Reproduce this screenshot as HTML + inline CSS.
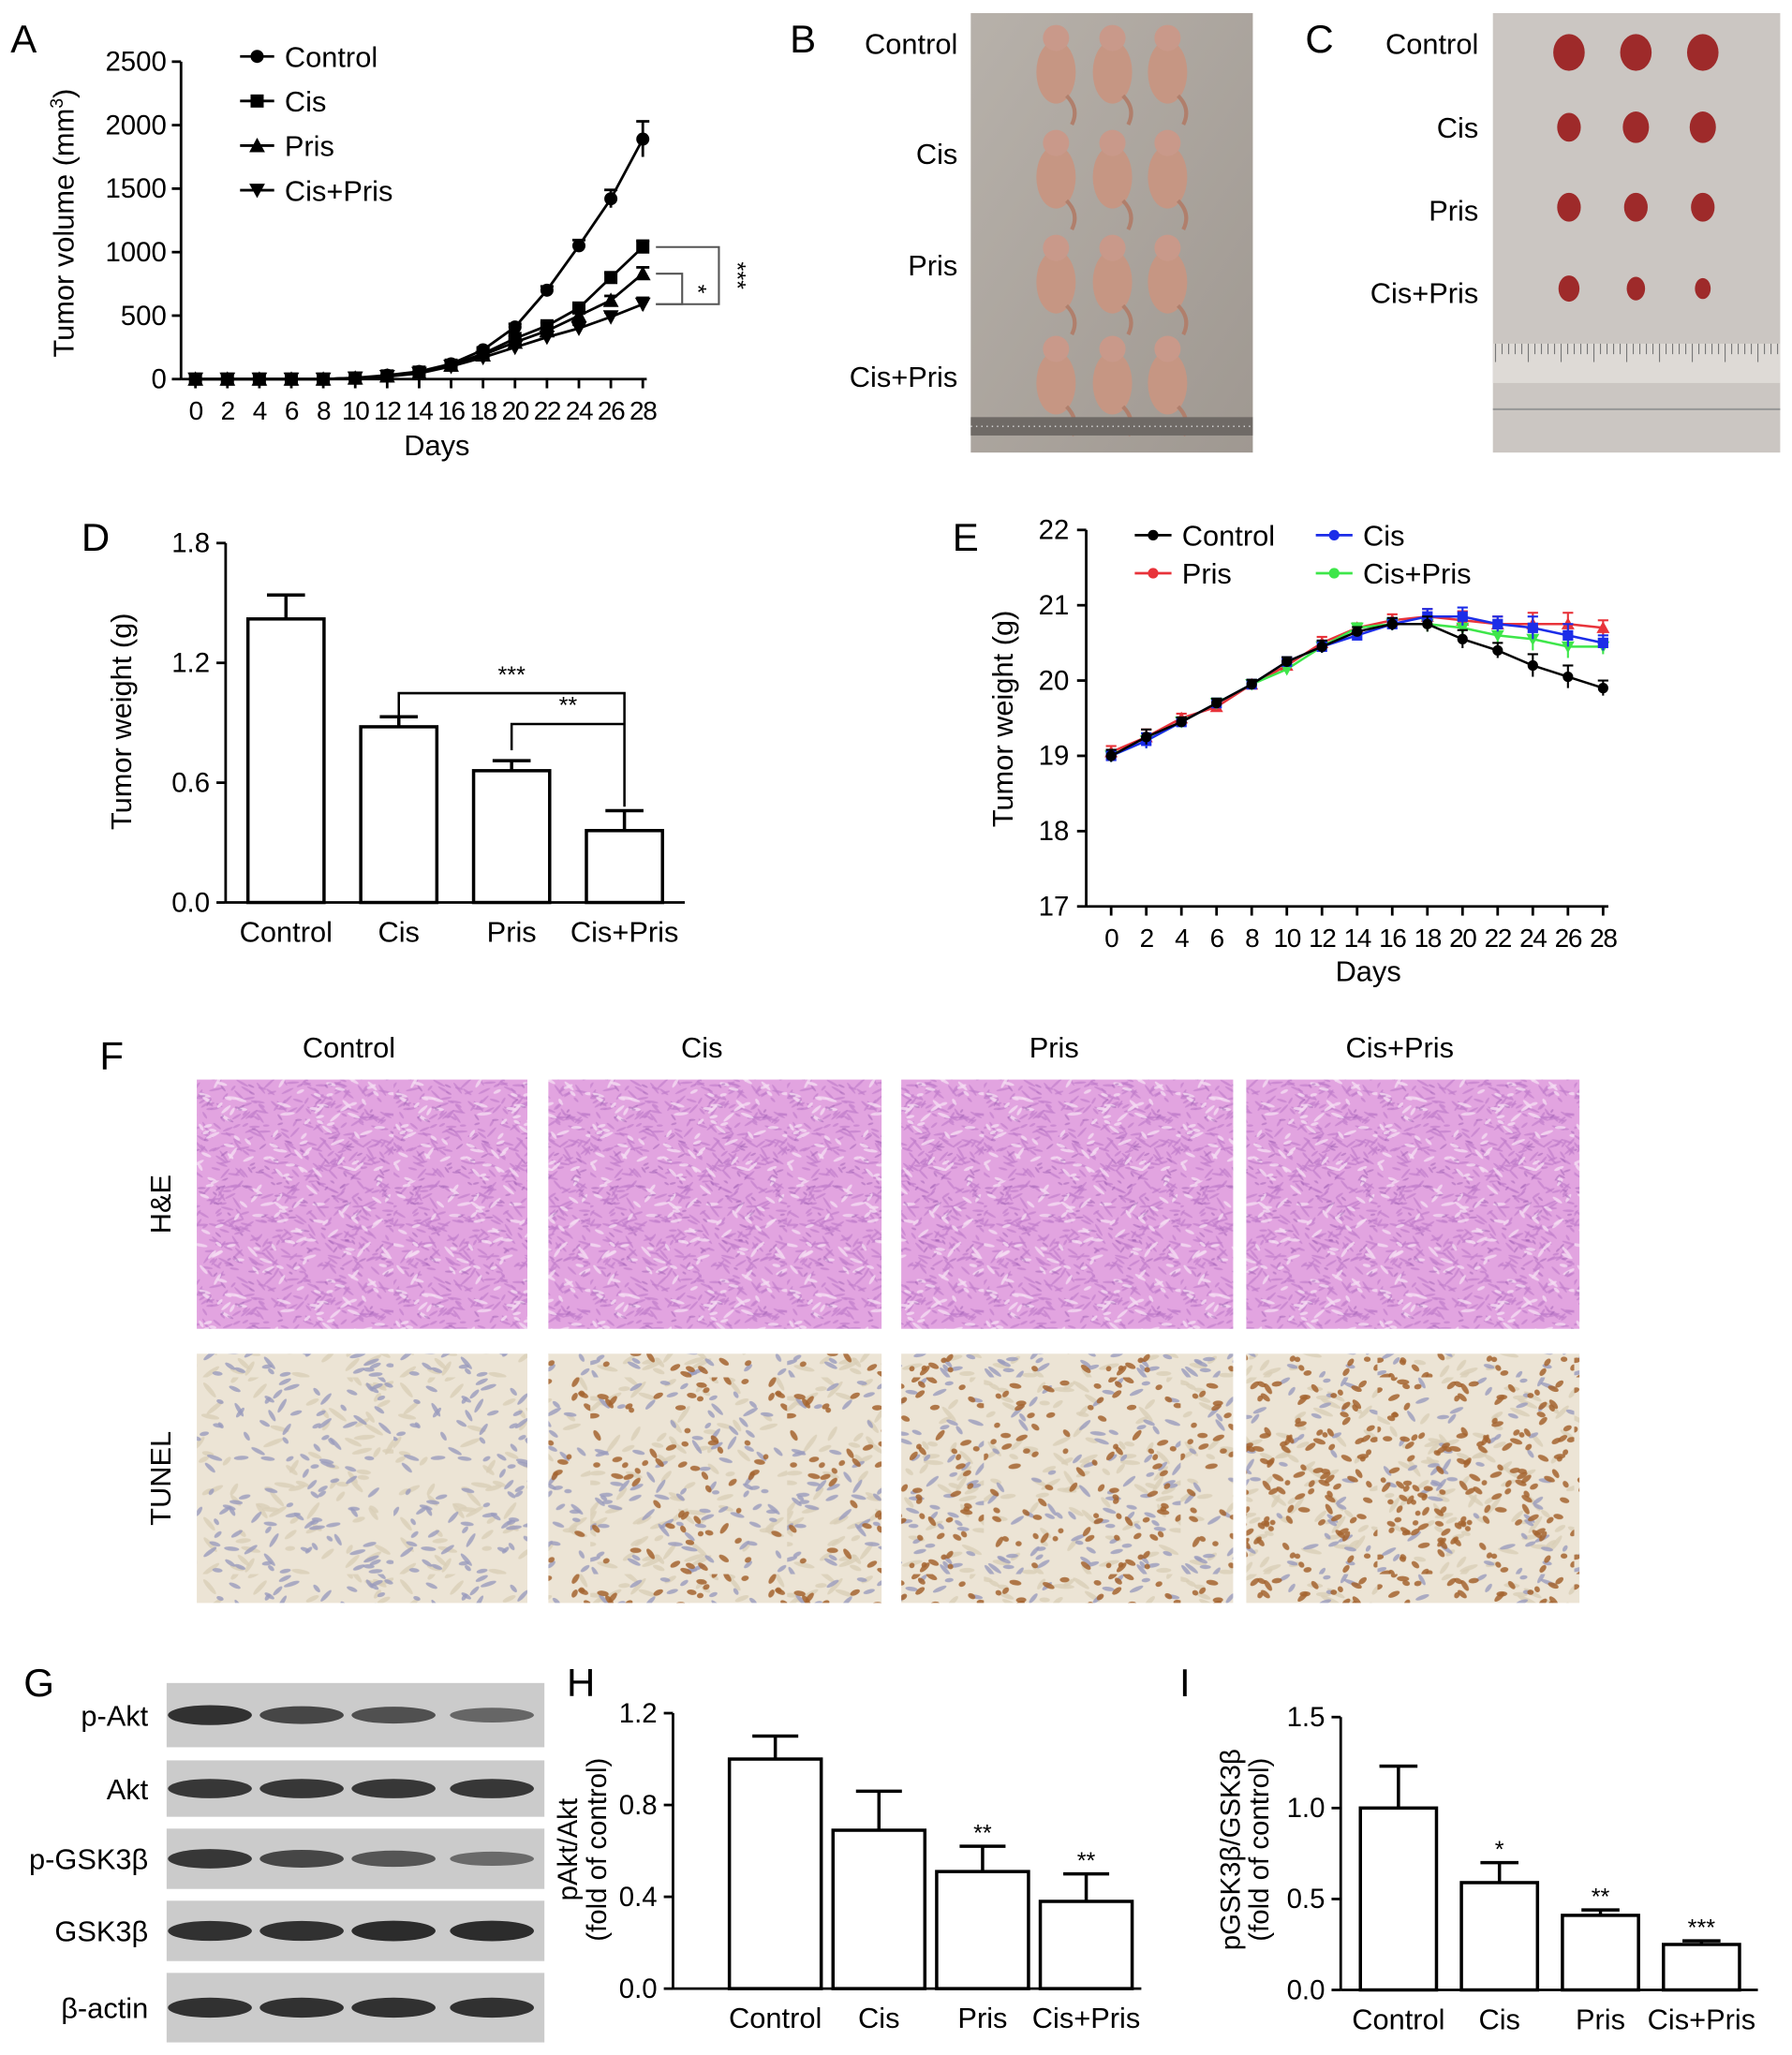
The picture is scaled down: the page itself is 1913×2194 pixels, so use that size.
<!DOCTYPE html>
<html><head><meta charset="utf-8">
<style>
html,body{margin:0;padding:0;background:#fff;}
svg{display:block;font-family:"Liberation Sans",sans-serif;}
</style></head>
<body>
<svg id="fig" xmlns="http://www.w3.org/2000/svg" width="1913" height="2194" viewBox="0 0 1366 1566.6" preserveAspectRatio="none">
<defs id="defs"></defs>
<g id="root"></g>
</svg>
<script>
// ---------- DATA ----------
const days=[0,2,4,6,8,10,12,14,16,18,20,22,24,26,28];
const volControl=[0,0,0,0,0,10,30,60,120,230,410,700,1050,1420,1890];
const volCis=[0,0,0,0,0,8,25,55,110,200,320,420,560,800,1040];
const volPris=[0,0,0,0,0,8,25,50,110,190,290,380,500,620,830];
const volCisPris=[0,0,0,0,0,8,20,45,100,170,250,330,400,490,590];
const volErrControl=[0,0,0,0,0,5,8,10,15,20,25,30,45,70,140];
const volErrOther=[0,0,0,0,0,5,6,8,10,15,20,25,30,35,50];
const volTicks=[0,500,1000,1500,2000,2500];
const volSeriesNames=["Control","Cis","Pris","Cis+Pris"];

const weightCats=["Control","Cis","Pris","Cis+Pris"];
const weightVals=[1.42,0.88,0.66,0.36];
const weightErrs=[0.12,0.05,0.05,0.1];
const weightTicks=[0.0,0.6,1.2,1.8];

const bwControl=[19.0,19.25,19.45,19.7,19.95,20.25,20.45,20.65,20.75,20.75,20.55,20.4,20.2,20.05,19.9];
const bwCis=[19.0,19.2,19.45,19.7,19.95,20.25,20.45,20.6,20.75,20.85,20.85,20.75,20.7,20.6,20.5];
const bwPris=[19.05,19.25,19.5,19.65,19.95,20.2,20.5,20.7,20.8,20.85,20.8,20.75,20.75,20.75,20.7];
const bwCisPris=[19.0,19.2,19.45,19.7,19.95,20.15,20.45,20.7,20.75,20.75,20.7,20.6,20.55,20.45,20.45];
const bwErr=[0.08,0.1,0.06,0.06,0.06,0.06,0.08,0.06,0.08,0.1,0.12,0.1,0.15,0.15,0.1];
const bwTicks=[17,18,19,20,21,22];

const aktCats=["Control","Cis","Pris","Cis+Pris"];
const aktVals=[1.0,0.69,0.51,0.38];
const aktErrs=[0.1,0.17,0.11,0.12];
const aktStars=["","","**","**"];
const aktTicks=[0.0,0.4,0.8,1.2];

const gskCats=["Control","Cis","Pris","Cis+Pris"];
const gskVals=[1.0,0.59,0.41,0.25];
const gskErrs=[0.23,0.11,0.03,0.02];
const gskStars=["","*","**","***"];
const gskTicks=[0.0,0.5,1.0,1.5];

const blotNames=["p-Akt","Akt","p-GSK3β","GSK3β","β-actin"];
const blotIntensity=[[0.9,0.7,0.6,0.4],[0.85,0.85,0.85,0.85],[0.85,0.7,0.55,0.35],[0.9,0.9,0.95,0.95],[0.9,0.9,0.9,0.9]];

// ---------- HELPERS ----------
const NS='http://www.w3.org/2000/svg';
const root=document.getElementById('root');
function mk(parent,tag,attrs,txt){const e=document.createElementNS(NS,tag);for(const k in attrs)e.setAttribute(k,attrs[k]);if(txt!=null)e.textContent=txt;parent.appendChild(e);return e;}
function grp(name){const g=mk(root,'g',{});return g;}
function txt(p,x,y,s,size,anchor,extra){const a=Object.assign({x:x,y:y,'font-size':size,'text-anchor':anchor||'middle',fill:'#000'},extra||{});return mk(p,'text',a,s);}
function fmt(v,d){return v.toFixed(d);}
let seed=7;function rnd(){seed=(seed*16807)%2147483647;return (seed-1)/2147483646;}

[["A",8,40],["B",602,40],["C",995,40],["D",62,420],["E",726,420],["F",76,815],["G",18,1293],["H",432,1293],["I",899,1293]].forEach(l=>{
  const t=txt(root,l[1],l[2],l[0],30,'start');
  
  
});

// ---------- PANEL A ----------
(function(){
  const g=grp('panel-a-tumor-volume-chart');
  const x=d=>149+d/28*341, y=v=>289-v/2500*242;
  mk(g,'line',{x1:138,y1:y(2500),x2:138,y2:289,stroke:'#000','stroke-width':2});
  mk(g,'line',{x1:138,y1:289,x2:x(28)+3,y2:289,stroke:'#000','stroke-width':2});
  volTicks.forEach(t=>{
    mk(g,'line',{x1:131,y1:y(t),x2:138,y2:y(t),stroke:'#000','stroke-width':2});
    const e=txt(g,127,y(t)+7,String(t),21,'end');
    
    
  });
  days.forEach(d=>{
    mk(g,'line',{x1:x(d),y1:289,x2:x(d),y2:296,stroke:'#000','stroke-width':2});
    const e=txt(g,x(d),320,String(d),20,'middle',{'letter-spacing':'-1'});
    
    
  });
  const xt=txt(g,333,347,'Days',22);
  
  
  const yt=txt(g,0,0,'',22,'middle',{transform:'translate(56,170) rotate(-90)'});
  
  
  yt.innerHTML='Tumor volume (mm<tspan dy="-8" font-size="14">3</tspan><tspan dy="8">)</tspan>';
  const series=[volControl,volCis,volPris,volCisPris];
  const errs=[volErrControl,volErrOther,volErrOther,volErrOther];
  function marker(p,k,cx,cy){
    if(k===0) return mk(p,'circle',{cx:cx,cy:cy,r:5,fill:'#000'});
    if(k===1) return mk(p,'rect',{x:cx-5,y:cy-5,width:10,height:10,fill:'#000'});
    if(k===2) return mk(p,'polygon',{points:`${cx},${cy-6} ${cx-6},${cy+5} ${cx+6},${cy+5}`,fill:'#000'});
    return mk(p,'polygon',{points:`${cx},${cy+6} ${cx-6},${cy-5} ${cx+6},${cy-5}`,fill:'#000'});
  }
  series.forEach((s,k)=>{
    const sg=mk(g,'g',{});
    
    
    mk(sg,'polyline',{points:s.map((v,i)=>x(days[i])+','+y(v)).join(' '),fill:'none',stroke:'#000','stroke-width':2});
    s.forEach((v,i)=>{
      const e=errs[k][i];
      if(e>0){mk(sg,'line',{x1:x(days[i]),y1:y(v+e),x2:x(days[i]),y2:y(v-e),stroke:'#000','stroke-width':2});
        mk(sg,'line',{x1:x(days[i])-5,y1:y(v+e),x2:x(days[i])+5,y2:y(v+e),stroke:'#000','stroke-width':2});}
      const m=marker(sg,k,x(days[i]),y(v));
      
      
    });
    const ly=43+k*34;
    const lg=mk(g,'g',{});
    
    
    mk(lg,'line',{x1:183,y1:ly,x2:209,y2:ly,stroke:'#000','stroke-width':2});
    marker(lg,k,196,ly);
    txt(lg,217,ly+8,volSeriesNames[k],22,'start');
  });
  const b=mk(g,'g',{});
  
  
  const yc=y(volCis[14]),yp=y(volPris[14]),ycp=y(volCisPris[14]);
  mk(b,'polyline',{points:`500,${yc} 548,${yc} 548,${ycp} 500,${ycp}`,fill:'none',stroke:'#555','stroke-width':1.5});
  mk(b,'polyline',{points:`500,${yp} 520,${yp} 520,${ycp} 500,${ycp}`,fill:'none',stroke:'#555','stroke-width':1.5});
  txt(b,0,0,'***',18,'middle',{transform:`translate(556,${(yc+ycp)/2}) rotate(90)`});
  txt(b,0,0,'*',18,'middle',{transform:`translate(526,${(yp+ycp)/2}) rotate(90)`});
})();

// ---------- PANEL B ----------
(function(){
  const g=grp('panel-b-mice-photo');
  const d=document.getElementById('defs');
  d.innerHTML+='<linearGradient id="gb" x1="0" y1="0" x2="1" y2="1"><stop offset="0" stop-color="#b7b1aa"/><stop offset="1" stop-color="#9f9891"/></linearGradient>';
  mk(g,'rect',{x:740,y:10,width:215,height:335,fill:'url(#gb)'});
  const rows=[55,135,215,292];
  rows.forEach(ry=>{[805,848,890].forEach(cx=>{
    const m=mk(g,'g',{});
    
    
    mk(m,'ellipse',{cx:cx,cy:ry,rx:15,ry:24,fill:'#c69683'});
    mk(m,'ellipse',{cx:cx,cy:ry-26,rx:10,ry:10,fill:'#c9998a'});
    mk(m,'path',{d:`M${cx+8},${ry+18} q10,10 4,22`,stroke:'#b07f6c','stroke-width':3,fill:'none'});
  });});
  mk(g,'rect',{x:740,y:318,width:215,height:14,fill:'#6f6a66'});
  mk(g,'line',{x1:740,y1:325,x2:955,y2:325,stroke:'#ddd','stroke-dasharray':'1 3'});
  [["Control",33],["Cis",117],["Pris",202],["Cis+Pris",287]].forEach(l=>{
    const e=txt(g,730,l[1]+8,l[0],22,'end');
    
    
  });
})();

// ---------- PANEL C ----------
(function(){
  const g=grp('panel-c-tumor-photo');
  mk(g,'rect',{x:1138,y:10,width:219,height:335,fill:'#cbc6c2'});
  mk(g,'rect',{x:1138,y:262,width:219,height:30,fill:'#dedad6'});
  for(let i=0;i<44;i++){mk(g,'line',{x1:1140+i*5,y1:262,x2:1140+i*5,y2:i%5===0?276:270,stroke:'#777','stroke-width':0.8});}
  mk(g,'line',{x1:1138,y1:312,x2:1357,y2:312,stroke:'#999','stroke-width':1.5});
  const rows=[40,97,158,220], sz=[[12,12,12],[9,10,10],[9,9,9],[8,7,6]];
  rows.forEach((ry,r)=>{[1196,1247,1298].forEach((cx,c)=>{
    const t=mk(g,'ellipse',{cx:cx,cy:ry,rx:sz[r][c],ry:sz[r][c]+2,fill:'#9e2a2a'});
    
    
  });});
  [["Control",33],["Cis",97],["Pris",160],["Cis+Pris",223]].forEach(l=>{
    const e=txt(g,1127,l[1]+8,l[0],22,'end');
    
    
  });
})();

// ---------- generic bar chart ----------
function barChart(name,cats,vals,errs,ticks,dec,stars,o){
  const g=grp(name);
  const y=v=>o.y0-(v/o.ymax)*(o.y0-o.ytop);
  const cx=i=>o.c0+i*o.step;
  mk(g,'line',{x1:o.ax,y1:o.ytop,x2:o.ax,y2:o.y0,stroke:'#000','stroke-width':2});
  mk(g,'line',{x1:o.ax,y1:o.y0,x2:o.xend,y2:o.y0,stroke:'#000','stroke-width':2});
  ticks.forEach(t=>{
    mk(g,'line',{x1:o.ax-7,y1:y(t),x2:o.ax,y2:y(t),stroke:'#000','stroke-width':2});
    const e=txt(g,o.ax-12,y(t)+7,fmt(t,dec),21,'end');
    
    
  });
  cats.forEach((c,i)=>{
    const b=mk(g,'rect',{x:cx(i)-o.bw/2,y:y(vals[i]),width:o.bw,height:o.y0-y(vals[i]),fill:'#fff',stroke:'#000','stroke-width':2.5});
    
    
    const top=y(vals[i]+errs[i]);
    mk(g,'line',{x1:cx(i),y1:y(vals[i]),x2:cx(i),y2:top,stroke:'#000','stroke-width':2.5});
    mk(g,'line',{x1:cx(i)-o.bw/4,y1:top,x2:cx(i)+o.bw/4,y2:top,stroke:'#000','stroke-width':2.5});
    const l=txt(g,cx(i),o.y0+30,c,22);
    
    
    if(stars&&stars[i]){const s=txt(g,cx(i),top-4,stars[i],18);
      
      }
  });
  return {g:g,y:y,cx:cx};
}

// ---------- PANEL D ----------
(function(){
  const r=barChart('panel-d-tumor-weight-chart',weightCats,weightVals,weightErrs,weightTicks,1,null,{ax:172,y0:688,ytop:414,ymax:1.8,xend:522,c0:218,step:86,bw:58});
  const yt=txt(r.g,0,0,'Tumor weight (g)',22,'middle',{transform:'translate(100,550) rotate(-90)'});
  
  
  const b=mk(r.g,'g',{});
  
  
  const y1=r.y(weightVals[1]+weightErrs[1])-18, y2=r.y(weightVals[2]+weightErrs[2])-28, yb=r.y(weightVals[3]+weightErrs[3]);
  mk(b,'polyline',{points:`${r.cx(1)},${y1+20} ${r.cx(1)},${y1} ${r.cx(3)},${y1} ${r.cx(3)},${yb-3}`,fill:'none',stroke:'#000','stroke-width':1.8});
  mk(b,'polyline',{points:`${r.cx(2)},${y2+20} ${r.cx(2)},${y2} ${r.cx(3)},${y2}`,fill:'none',stroke:'#000','stroke-width':1.8});
  txt(b,(r.cx(1)+r.cx(3))/2,y1-8,'***',18);
  txt(b,(r.cx(2)+r.cx(3))/2,y2-8,'**',18);
})();

// ---------- PANEL E ----------
(function(){
  const g=grp('panel-e-body-weight-chart');
  const x=d=>847+d/28*375, y=v=>691-(v-17)*57.4;
  mk(g,'line',{x1:828,y1:y(22),x2:828,y2:691,stroke:'#000','stroke-width':2});
  mk(g,'line',{x1:828,y1:691,x2:x(28)+4,y2:691,stroke:'#000','stroke-width':2});
  bwTicks.forEach(t=>{
    mk(g,'line',{x1:821,y1:y(t),x2:828,y2:y(t),stroke:'#000','stroke-width':2});
    const e=txt(g,815,y(t)+7,String(t),21,'end');
    
    
  });
  days.forEach(d=>{
    mk(g,'line',{x1:x(d),y1:691,x2:x(d),y2:698,stroke:'#000','stroke-width':2});
    const e=txt(g,x(d),722,String(d),20,'middle',{'letter-spacing':'-1'});
    
    
  });
  const xt=txt(g,1043,748,'Days',22);
  
  
  const yt=txt(g,0,0,'Tumor weight (g)',22,'middle',{transform:'translate(772,548) rotate(-90)'});
  
  
  const series=[bwPris,bwCisPris,bwCis,bwControl], cols=['#e8333a','#3ee64a','#1c2de8','#000'], names=['Pris','Cis+Pris','Cis','Control'];
  series.forEach((s,k)=>{
    const sg=mk(g,'g',{});
    
    
    mk(sg,'polyline',{points:s.map((v,i)=>x(days[i])+','+y(v)).join(' '),fill:'none',stroke:cols[k],'stroke-width':1.8});
    s.forEach((v,i)=>{
      mk(sg,'line',{x1:x(days[i]),y1:y(v+bwErr[i]),x2:x(days[i]),y2:y(v-bwErr[i]),stroke:cols[k],'stroke-width':1.5});
      mk(sg,'line',{x1:x(days[i])-4,y1:y(v+bwErr[i]),x2:x(days[i])+4,y2:y(v+bwErr[i]),stroke:cols[k],'stroke-width':1.5});
      let m;
      if(k===3) m=mk(sg,'circle',{cx:x(days[i]),cy:y(v),r:4,fill:cols[k]});
      else if(k===2) m=mk(sg,'rect',{x:x(days[i])-4,y:y(v)-4,width:8,height:8,fill:cols[k]});
      else if(k===0) m=mk(sg,'polygon',{points:`${x(days[i])},${y(v)-5} ${x(days[i])-5},${y(v)+4} ${x(days[i])+5},${y(v)+4}`,fill:cols[k]});
      else m=mk(sg,'polygon',{points:`${x(days[i])},${y(v)+5} ${x(days[i])-5},${y(v)-4} ${x(days[i])+5},${y(v)-4}`,fill:cols[k]});
      
      
    });
  });
  [["Control",0,865,408],["Cis",2,1003,408],["Pris",3,865,437],["Cis+Pris",1,1003,437]].forEach(l=>{
    const lg=mk(g,'g',{});
    
    
    const c=['#000','#3ee64a','#1c2de8','#e8333a'][l[1]];
    mk(lg,'line',{x1:l[2],y1:l[3],x2:l[2]+28,y2:l[3],stroke:c,'stroke-width':2});
    mk(lg,'circle',{cx:l[2]+14,cy:l[3],r:4,fill:c});
    txt(lg,l[2]+36,l[3]+8,l[0],22,'start');
  });
})();

// ---------- PANEL F ----------
(function(){
  const g=grp('panel-f-histology');
  const defs=document.getElementById('defs');
  function pattern(id,bg,sets){
    const p=mk(defs,'pattern',{id:id,width:150,height:150,patternUnits:'userSpaceOnUse'});
    mk(p,'rect',{width:150,height:150,fill:bg});
    sets.forEach(s=>{for(let i=0;i<s.n;i++){
      const cx=rnd()*150,cy=rnd()*150,a=-60+rnd()*120;
      mk(p,'ellipse',{cx:cx,cy:cy,rx:s.rx*(0.6+rnd()*0.8),ry:s.ry,fill:s.c,opacity:s.o,transform:`rotate(${a} ${cx} ${cy})`});
    }});
  }
  pattern('he','#e2a4e0',[{n:500,c:'#c07ccb',rx:4,ry:0.9,o:0.65},{n:150,c:'#f5dcf3',rx:4,ry:1.2,o:0.8},{n:120,c:'#9f5fb3',rx:2.5,ry:0.8,o:0.5}]);
  const brown=[0,70,90,160];
  for(let k=0;k<4;k++) pattern('tu'+k,'#ece4d5',[{n:80,c:'#d9ceb6',rx:6,ry:1.8,o:0.8},{n:110-brown[k]/3,c:'#9a9bbd',rx:4.5,ry:1.6,o:0.8},{n:brown[k],c:'#a5642f',rx:3.5,ry:2,o:0.85}]);
  const cols=[[150,402],[418,672],[687,940],[950,1204]], names=["Control","Cis","Pris","Cis+Pris"];
  cols.forEach((c,i)=>{
    const t=txt(g,(c[0]+c[1])/2-10,806,names[i],22);
    
    
    const a=mk(g,'rect',{x:c[0],y:823,width:c[1]-c[0],height:190,fill:'url(#he)'});
    
    
    const b=mk(g,'rect',{x:c[0],y:1032,width:c[1]-c[0],height:190,fill:'url(#tu'+i+')'});
    
    
  });
  const r1=txt(g,0,0,'H&E',22,'middle',{transform:'translate(130,918) rotate(-90)'});
  
  
  const r2=txt(g,0,0,'TUNEL',22,'middle',{transform:'translate(130,1127) rotate(-90)'});
  
  
})();

// ---------- PANEL G ----------
(function(){
  const g=grp('panel-g-western-blot');
  const rows=[[1283,1332],[1342,1385],[1394,1440],[1449,1495],[1504,1557]];
  const lanes=[160,230,300,375];
  rows.forEach((r,i)=>{
    const bg=mk(g,'g',{});
    
    
    mk(bg,'rect',{x:127,y:r[0],width:288,height:r[1]-r[0],fill:'#cbcbcb'});
    const cy=(r[0]+r[1])/2;
    lanes.forEach((lx,j)=>{
      const v=blotIntensity[i][j];
      mk(bg,'ellipse',{cx:lx,cy:cy,rx:32,ry:4+v*4,fill:'#1e1e1e',opacity:0.35+v*0.6});
    });
    const t=txt(g,113,cy+8,blotNames[i],22,'end');
    
    
  });
})();

// ---------- PANEL H ----------
(function(){
  const r=barChart('panel-h-pakt-chart',aktCats,aktVals,aktErrs,aktTicks,1,aktStars,{ax:513,y0:1516,ytop:1306,ymax:1.2,xend:870,c0:591,step:79,bw:70});
  const t=mk(r.g,'text',{transform:'translate(440,1410) rotate(-90)','font-size':21,'text-anchor':'middle'});
  
  
  t.innerHTML='<tspan x="0" y="0">pAkt/Akt</tspan><tspan x="0" y="22">(fold of control)</tspan>';
})();

// ---------- PANEL I ----------
(function(){
  const r=barChart('panel-i-pgsk3b-chart',gskCats,gskVals,gskErrs,gskTicks,1,gskStars,{ax:1022,y0:1517,ytop:1309,ymax:1.5,xend:1340,c0:1066,step:77,bw:58});
  const t=mk(r.g,'text',{transform:'translate(945,1410) rotate(-90)','font-size':21,'text-anchor':'middle'});
  
  
  t.innerHTML='<tspan x="0" y="0">pGSK3β/GSK3β</tspan><tspan x="0" y="22">(fold of control)</tspan>';
})();
</script>
</body></html>
